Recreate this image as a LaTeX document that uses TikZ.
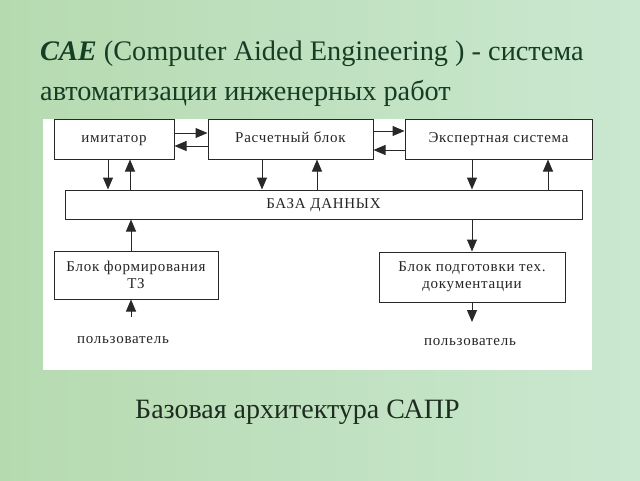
\documentclass[tikz,border=0pt]{standalone}
\usepackage{fontspec}
\setmainfont{Liberation Serif}
\newfontfamily\diagfont[LetterSpace=5]{Liberation Serif}
\usetikzlibrary{arrows.meta}
\definecolor{bgA}{RGB}{182,218,176}
\definecolor{bgB}{RGB}{202,232,208}
\definecolor{titlecol}{RGB}{22,62,36}
\definecolor{capcol}{RGB}{30,45,32}
\definecolor{linecol}{RGB}{40,40,40}
\tikzset{
  box/.style={draw=linecol, line width=1pt, fill=white, inner sep=0pt, align=center,
    font=\diagfont\fontsize{15}{17}\selectfont, text=black!85},
  oneline/.style={text height=10.5pt, text depth=3.5pt},
  arr/.style={draw=linecol, line width=1pt, -{Triangle[width=10pt,length=12pt]}},
  plain/.style={font=\diagfont\fontsize{15}{17}\selectfont, text=black!85, inner sep=0pt}
}
\begin{document}
\begin{tikzpicture}[x=1pt,y=-1pt]
\useasboundingbox (0,0) rectangle (640,480);
\shade[left color=bgA, right color=bgB] (0,0) rectangle (640,480);
\fill[white] (43,119) rectangle (592,370);
% title
\node[anchor=base west, inner sep=0pt, text=titlecol, font=\fontsize{28.3}{32}\selectfont] (t1) at (40,60)
  {\textbf{\textit{CAE}} (Computer Aided Engineering ) - система};
\node[anchor=base west, inner sep=0pt, text=titlecol, font=\fontsize{28.3}{32}\selectfont] (t2) at (40,100)
  {автоматизации инженерных работ};
% boxes
\node[box, oneline, minimum width=120pt, minimum height=40pt] (imit) at (114,139) {имитатор};
\node[box, oneline, minimum width=165pt, minimum height=40pt] (calc) at (290.5,139) {Расчетный блок};
\node[box, oneline, minimum width=187pt, minimum height=40pt] (expert) at (498.5,139) {Экспертная система};
\node[box, oneline, minimum width=517pt, minimum height=29pt] (db) at (323.5,204.5) {БАЗА ДАННЫХ};
\node[box, minimum width=164pt, minimum height=48pt] (tz) at (136,275) {Блок формирования\\ТЗ};
\node[box, minimum width=186pt, minimum height=50pt] (doc) at (472,277) {Блок подготовки тех.\\документации};
\node[plain, oneline] (u1) at (123,340) {пользователь};
\node[plain, oneline] (u2) at (470,342) {пользователь};
% horizontal arrows
\draw[arr] (imit.east |- 0,133) -- (calc.west |- 0,133);
\draw[arr] (calc.west |- 0,146) -- (imit.east |- 0,146);
\draw[arr] (calc.east |- 0,131) -- (expert.west |- 0,131);
\draw[arr] (expert.west |- 0,150) -- (calc.east |- 0,150);
% vertical arrows
\draw[arr] (108,0 |- imit.south) -- (108,0 |- db.north);
\draw[arr] (130,0 |- db.north) -- (130,0 |- imit.south);
\draw[arr] (262,0 |- calc.south) -- (262,0 |- db.north);
\draw[arr] (317,0 |- db.north) -- (317,0 |- calc.south);
\draw[arr] (472,0 |- expert.south) -- (472,0 |- db.north);
\draw[arr] (548,0 |- db.north) -- (548,0 |- expert.south);
\draw[arr] (472,0 |- db.south) -- (472,0 |- doc.north);
\draw[arr] (131,0 |- tz.north) -- (131,0 |- db.south);
\coordinate (u1top) at (131,317);
\draw[arr] (u1top) -- (131,0 |- tz.south);
\coordinate (u2top) at (472,322);
\draw[arr] (doc.south -| 472,0) -- (u2top);
% caption
\node[anchor=base west, inner sep=0pt, text=capcol, font=\fontsize{28}{32}\selectfont] (cap) at (135,418)
  {Базовая архитектура САПР};
\end{tikzpicture}
\end{document}
